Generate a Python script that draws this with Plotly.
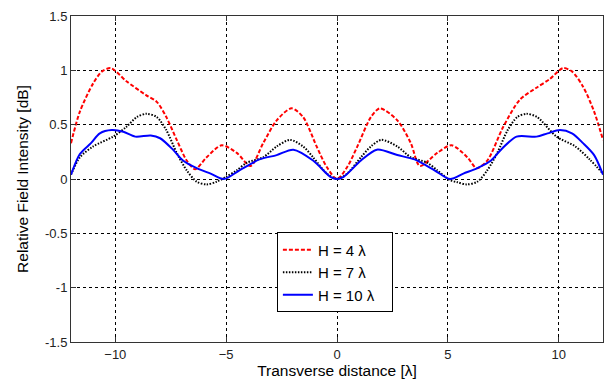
import plotly.graph_objects as go

# H = 4 lambda
x_h4 = [-12, -11.6, -11, -10.6, -10.2, -9.5, -8.6, -8.13, -7.7, -7.23, -6.78, -6.4, -5.88, -5.2, -4.52, -3.9,
        -3.33, -2.72, -2.05, -1.53, -0.92, -0.46, 0,
        0.46, 0.92, 1.53, 1.94, 2.72, 3.33, 3.74, 4.52, 5.17, 5.88, 6.3, 6.78, 7.5, 8.25, 9.0, 9.6, 10.2,
        10.6, 11.1, 11.6, 12]
y_h4 = [0.33, 0.62, 0.88, 0.99, 1.02, 0.90, 0.77, 0.71, 0.57, 0.36, 0.17, 0.09, 0.20, 0.31, 0.24, 0.12,
        0.33, 0.54, 0.65, 0.57, 0.30, 0.11, 0.0,
        0.11, 0.30, 0.57, 0.65, 0.54, 0.33, 0.12, 0.24, 0.31, 0.20, 0.10, 0.17, 0.48, 0.73, 0.84, 0.92, 1.02,
        0.99, 0.85, 0.62, 0.36]

# H = 7 lambda
x_h7 = [-12, -11.6, -11, -10.1, -9.5, -9.03, -8.6, -8.13, -7.7, -7.23, -6.78, -6.33, -5.88, -5.43, -5.0,
        -4.52, -4.07, -3.33, -2.72, -2.12, -1.53, -1.08, -0.46, 0,
        0.46, 1.08, 1.53, 2.0, 2.72, 3.33, 4.07, 4.52, 5.1, 5.43, 5.85, 6.33, 6.78, 7.23, 7.7, 8.13, 8.55,
        9.03, 9.9, 10.75, 11.4, 12]
y_h7 = [0.04, 0.20, 0.30, 0.39, 0.48, 0.57, 0.60, 0.57, 0.45, 0.24, 0.08, -0.025, -0.05, -0.025, 0.02,
        0.08, 0.15, 0.20, 0.30, 0.36, 0.30, 0.20, 0.05, 0.0,
        0.05, 0.20, 0.30, 0.36, 0.30, 0.20, 0.15, 0.08, -0.01, -0.03, -0.05, -0.025, 0.08, 0.24, 0.45, 0.57, 0.60,
        0.57, 0.39, 0.30, 0.18, 0.05]

# H = 10 lambda
x_h10 = [-12, -11.6, -11.1, -10.7, -10.16, -9.64, -9.1, -8.4, -7.98, -7.4, -6.95, -6.33, -5.7, -5.1,
         -4.4, -3.5, -2.72, -1.97, -1.08, -0.3, 0,
         0.3, 1.08, 1.8, 2.72, 3.5, 4.4, 5.1, 5.7, 6.33, 6.95, 7.4, 8.1, 9.0, 9.5, 10.06, 10.6, 11.1, 11.6, 12]
y_h10 = [0.04, 0.23, 0.33, 0.42, 0.45, 0.435, 0.39, 0.40, 0.375, 0.27, 0.17, 0.10, 0.05, 0.0,
         0.08, 0.18, 0.22, 0.27, 0.17, 0.02, 0.0,
         0.02, 0.17, 0.27, 0.22, 0.18, 0.08, 0.0, 0.05, 0.10, 0.17, 0.27, 0.39, 0.39, 0.42, 0.45, 0.42, 0.33, 0.22, 0.04]

series_names = ["H = 4 λ", "H = 7 λ", "H = 10 λ"]
x_ticks = [-10, -5, 0, 5, 10]
y_ticks = [-1.5, -1, -0.5, 0, 0.5, 1, 1.5]
y_tick_labels = ["-1.5", "-1", "-0.5", "0", "0.5", "1", "1.5"]

pad = "\u00a0\u00a0\u00a0"
fig = go.Figure()
fig.add_trace(go.Scatter(x=x_h4, y=y_h4, mode="lines", name=series_names[0] + pad,
                         line=dict(color="#ff0000", width=2, dash="4px,2px", shape="spline", smoothing=0.8)))
fig.add_trace(go.Scatter(x=x_h7, y=y_h7, mode="lines", name=series_names[1] + pad,
                         line=dict(color="#000000", width=2, dash="1.5px,1.5px", shape="spline", smoothing=0.8)))
fig.add_trace(go.Scatter(x=x_h10, y=y_h10, mode="lines", name=series_names[2] + pad,
                         line=dict(color="#0000ff", width=2, shape="spline", smoothing=0.8)))

font_family = "Arial, Liberation Sans, sans-serif"
fig.update_layout(
    width=609, height=383,
    margin=dict(l=71, r=6, t=16, b=41),
    paper_bgcolor="white", plot_bgcolor="white",
    font=dict(family=font_family, color="#000"),
    showlegend=True,
    legend=dict(x=0.387, y=0.336, xanchor="left", yanchor="top",
                bgcolor="white", bordercolor="black", borderwidth=1,
                font=dict(size=15, family=font_family), tracegroupgap=0),
)
fig.update_xaxes(range=[-12, 12], tickvals=x_ticks, ticks="inside", ticklen=5, tickcolor="#333",
                 showline=True, linecolor="#333", linewidth=1, mirror="ticks",
                 showgrid=True, gridcolor="#000", gridwidth=1, griddash="3px,3px",
                 zeroline=False, tickfont=dict(size=13, color="#222"),
                 title=dict(text="Transverse distance [λ]", font=dict(size=15.5), standoff=3))
fig.update_yaxes(range=[-1.5, 1.5], tickvals=y_ticks, ticktext=y_tick_labels, ticks="inside", ticklen=5,
                 tickcolor="#333", showline=True, linecolor="#333", linewidth=1, mirror="ticks",
                 showgrid=True, gridcolor="#000", gridwidth=1, griddash="3px,3px",
                 zeroline=False, tickfont=dict(size=13, color="#222"),
                 title=dict(text="Relative Field Intensity [dB]", font=dict(size=15.5), standoff=12))

fig.write_html("out.html")
